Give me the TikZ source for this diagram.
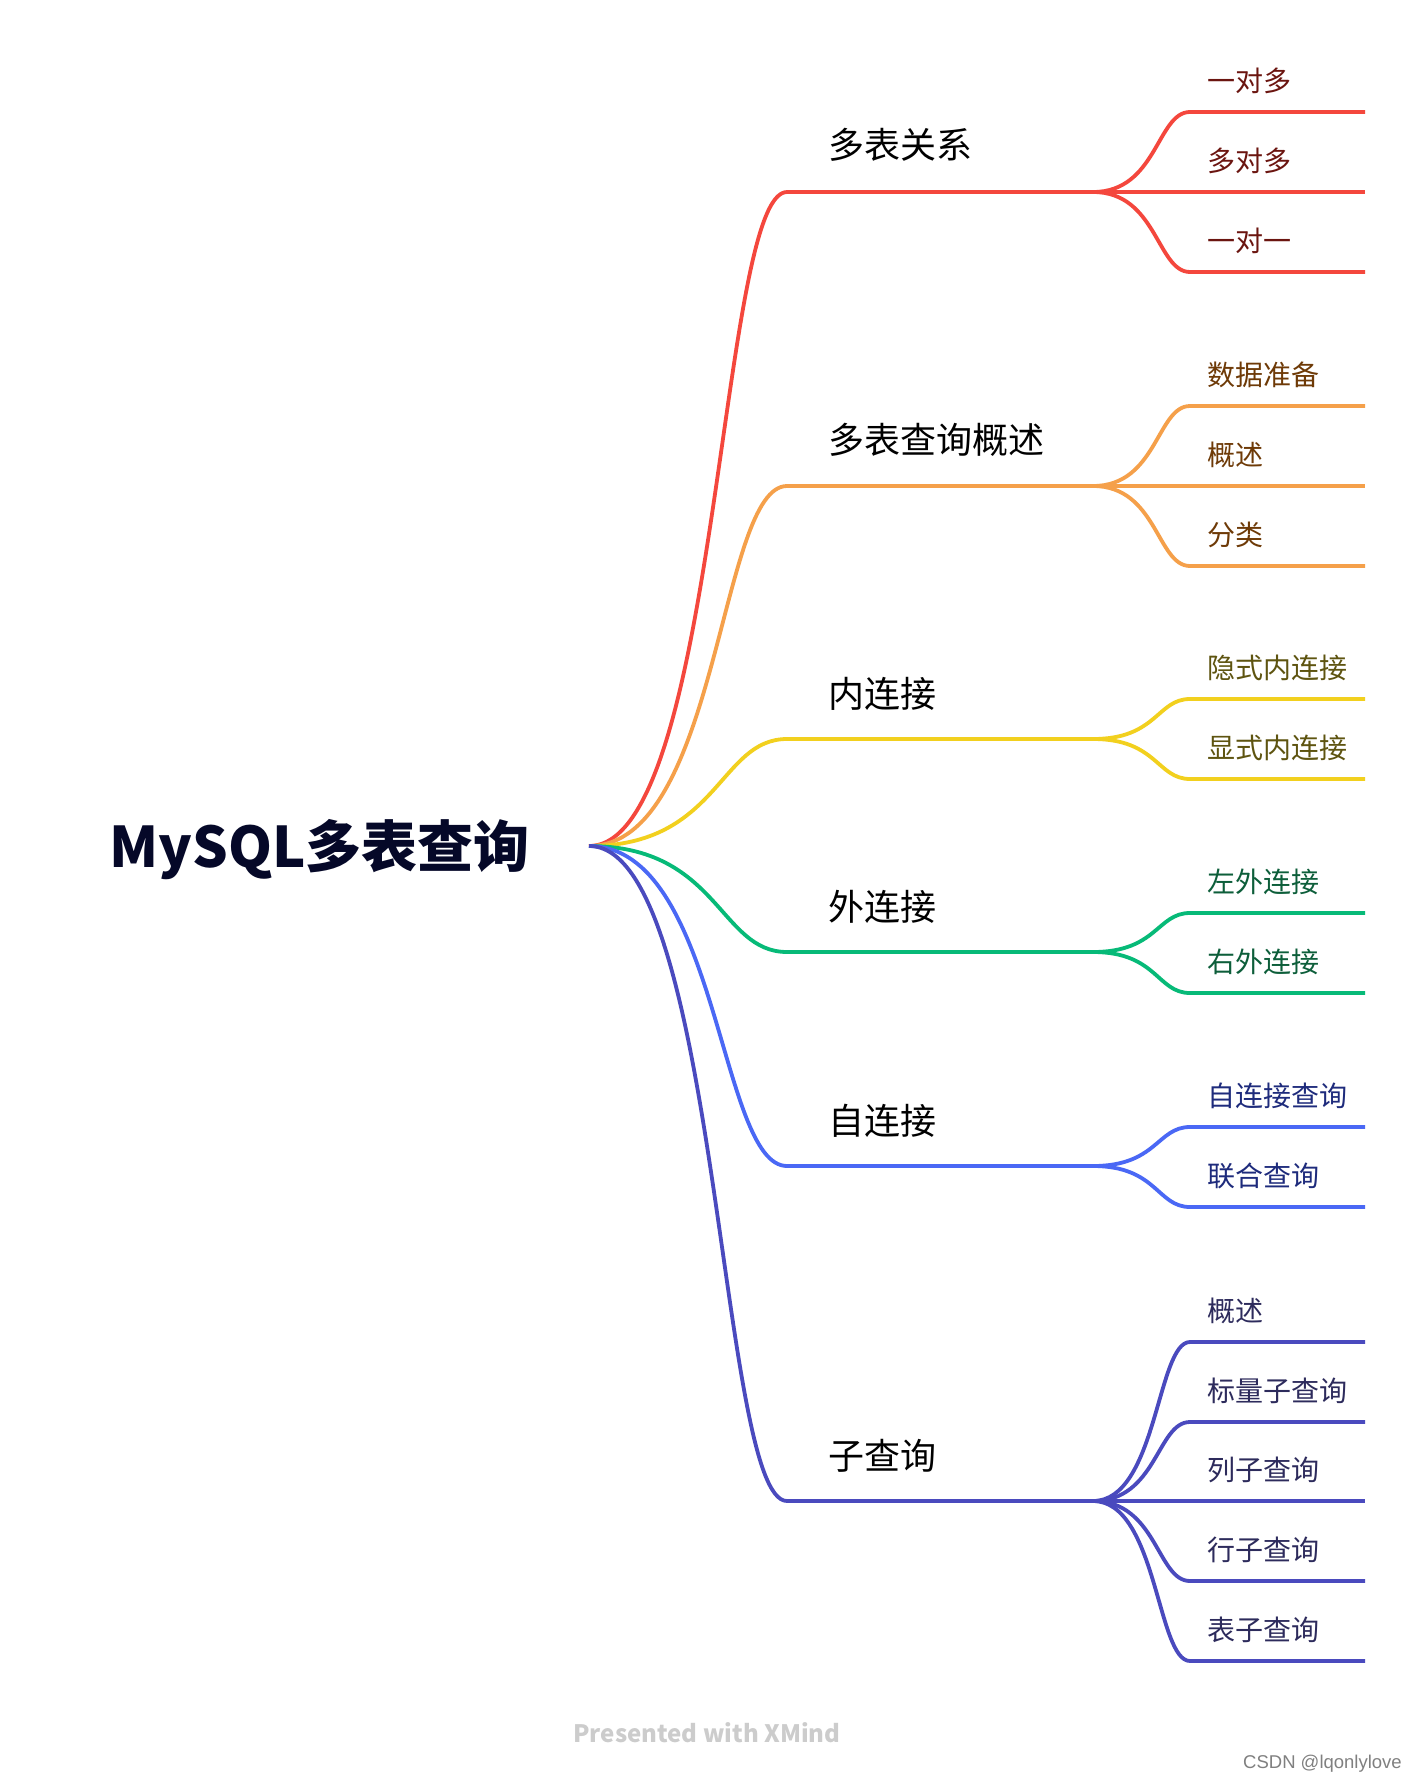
\documentclass[tikz,border=0pt]{standalone}
\usepackage{fontspec}
\setmainfont{Noto Sans CJK SC}
\newfontfamily\libsans{Liberation Sans}
\usepackage{xcolor}
\usepackage{tikz}
\usetikzlibrary{positioning}
\definecolor{rojo}{HTML}{F4473D}
\definecolor{naranja}{HTML}{F5A04A}
\definecolor{amarillo}{HTML}{F2D01E}
\definecolor{verde}{HTML}{07BA78}
\definecolor{azul}{HTML}{4A68F5}
\definecolor{anil}{HTML}{4A4ABE}
\definecolor{trojo}{HTML}{6B1510}
\definecolor{tnaranja}{HTML}{6E3A07}
\definecolor{tamarillo}{HTML}{5E5410}
\definecolor{tverde}{HTML}{0D5E3A}
\definecolor{tazul}{HTML}{1E2B7C}
\definecolor{tanil}{HTML}{2D2B5C}
\definecolor{traiz}{HTML}{050828}

\begin{document}
\begin{tikzpicture}[x=1pt, y=-1pt,
  rama/.style={line width=3.8pt},
  tema/.style={anchor=west, inner sep=0pt, font=\fontsize{36}{40}\selectfont, text=black},
  hoja/.style={anchor=west, inner sep=0pt, font=\fontsize{28}{32}\selectfont}]
\fill[white] (0,0) rectangle (1416,1784);
\useasboundingbox (0,0) rectangle (1416,1784);
% raiz
\node[anchor=east, inner sep=0pt, font=\fontsize{56}{60}\selectfont\bfseries, text=traiz] (raiz) at (530,850) {MySQL多表查询};
\coordinate (r) at (589,846);
% ramas principales
\coordinate (p1) at (787,192);  \coordinate (s1) at (1093,192);
\coordinate (p2) at (787,486);  \coordinate (s2) at (1093,486);
\coordinate (p3) at (787,739);  \coordinate (s3) at (1093,739);
\coordinate (p4) at (787,952);  \coordinate (s4) at (1093,952);
\coordinate (p5) at (787,1166); \coordinate (s5) at (1093,1166);
\coordinate (p6) at (787,1501); \coordinate (s6) at (1093,1501);
\draw[rama, rojo] (r) .. controls +(130,0) and +(-68,0) .. (p1) -- (s1);
\draw[rama, naranja] (r) .. controls +(130,0) and +(-68,0) .. (p2) -- (s2);
\draw[rama, amarillo] (r) .. controls +(130,0) and +(-68,0) .. (p3) -- (s3);
\draw[rama, verde] (r) .. controls +(130,0) and +(-68,0) .. (p4) -- (s4);
\draw[rama, azul] (r) .. controls +(130,0) and +(-68,0) .. (p5) -- (s5);
\draw[rama, anil] (r) .. controls +(130,0) and +(-68,0) .. (p6) -- (s6);
\node[tema] (t1) at ([shift={(41,-47)}]p1) {多表关系};
\node[tema] (t2) at ([shift={(41,-46)}]p2) {多表查询概述};
\node[tema] (t3) at ([shift={(41,-45)}]p3) {内连接};
\node[tema] (t4) at ([shift={(41,-45)}]p4) {外连接};
\node[tema] (t5) at ([shift={(41,-45)}]p5) {自连接};
\node[tema] (t6) at ([shift={(41,-45)}]p6) {子查询};
% hojas: 多表关系
\coordinate (h11) at (1190,112); \coordinate (f11) at (1365,112);
\coordinate (h12) at (1190,192); \coordinate (f12) at (1365,192);
\coordinate (h13) at (1190,272); \coordinate (f13) at (1365,272);
\draw[rama, rojo] (s1) .. controls +(64,0) and +(-33,0) .. (h11) -- (f11);
\draw[rama, rojo] (s1) -- (h12) -- (f12);
\draw[rama, rojo] (s1) .. controls +(64,0) and +(-33,0) .. (h13) -- (f13);
\node[hoja, text=trojo] (t11) at ([shift={(17,-31)}]h11) {一对多};
\node[hoja, text=trojo] (t12) at ([shift={(17,-31)}]h12) {多对多};
\node[hoja, text=trojo] (t13) at ([shift={(17,-31)}]h13) {一对一};
% hojas: 多表查询概述
\coordinate (h21) at (1190,406); \coordinate (f21) at (1365,406);
\coordinate (h22) at (1190,486); \coordinate (f22) at (1365,486);
\coordinate (h23) at (1190,566); \coordinate (f23) at (1365,566);
\draw[rama, naranja] (s2) .. controls +(64,0) and +(-33,0) .. (h21) -- (f21);
\draw[rama, naranja] (s2) -- (h22) -- (f22);
\draw[rama, naranja] (s2) .. controls +(64,0) and +(-33,0) .. (h23) -- (f23);
\node[hoja, text=tnaranja] (t21) at ([shift={(17,-31)}]h21) {数据准备};
\node[hoja, text=tnaranja] (t22) at ([shift={(17,-31)}]h22) {概述};
\node[hoja, text=tnaranja] (t23) at ([shift={(17,-31)}]h23) {分类};
% hojas: 内连接
\coordinate (h31) at (1190,699); \coordinate (f31) at (1365,699);
\coordinate (h32) at (1190,779); \coordinate (f32) at (1365,779);
\draw[rama, amarillo] (s3) .. controls +(64,0) and +(-33,0) .. (h31) -- (f31);
\draw[rama, amarillo] (s3) .. controls +(64,0) and +(-33,0) .. (h32) -- (f32);
\node[hoja, text=tamarillo] (t31) at ([shift={(17,-31)}]h31) {隐式内连接};
\node[hoja, text=tamarillo] (t32) at ([shift={(17,-31)}]h32) {显式内连接};
% hojas: 外连接
\coordinate (h41) at (1190,913); \coordinate (f41) at (1365,913);
\coordinate (h42) at (1190,993); \coordinate (f42) at (1365,993);
\draw[rama, verde] (s4) .. controls +(64,0) and +(-33,0) .. (h41) -- (f41);
\draw[rama, verde] (s4) .. controls +(64,0) and +(-33,0) .. (h42) -- (f42);
\node[hoja, text=tverde] (t41) at ([shift={(17,-31)}]h41) {左外连接};
\node[hoja, text=tverde] (t42) at ([shift={(17,-31)}]h42) {右外连接};
% hojas: 自连接
\coordinate (h51) at (1190,1127); \coordinate (f51) at (1365,1127);
\coordinate (h52) at (1190,1207); \coordinate (f52) at (1365,1207);
\draw[rama, azul] (s5) .. controls +(64,0) and +(-33,0) .. (h51) -- (f51);
\draw[rama, azul] (s5) .. controls +(64,0) and +(-33,0) .. (h52) -- (f52);
\node[hoja, text=tazul] (t51) at ([shift={(17,-31)}]h51) {自连接查询};
\node[hoja, text=tazul] (t52) at ([shift={(17,-31)}]h52) {联合查询};
% hojas: 子查询
\coordinate (h61) at (1190,1342); \coordinate (f61) at (1365,1342);
\coordinate (h62) at (1190,1422); \coordinate (f62) at (1365,1422);
\coordinate (h63) at (1190,1501); \coordinate (f63) at (1365,1501);
\coordinate (h64) at (1190,1581); \coordinate (f64) at (1365,1581);
\coordinate (h65) at (1190,1661); \coordinate (f65) at (1365,1661);
\draw[rama, anil] (s6) .. controls +(64,0) and +(-33,0) .. (h61) -- (f61);
\draw[rama, anil] (s6) .. controls +(64,0) and +(-33,0) .. (h62) -- (f62);
\draw[rama, anil] (s6) -- (h63) -- (f63);
\draw[rama, anil] (s6) .. controls +(64,0) and +(-33,0) .. (h64) -- (f64);
\draw[rama, anil] (s6) .. controls +(64,0) and +(-33,0) .. (h65) -- (f65);
\node[hoja, text=tanil] (t61) at ([shift={(17,-31)}]h61) {概述};
\node[hoja, text=tanil] (t62) at ([shift={(17,-31)}]h62) {标量子查询};
\node[hoja, text=tanil] (t63) at ([shift={(17,-31)}]h63) {列子查询};
\node[hoja, text=tanil] (t64) at ([shift={(17,-31)}]h64) {行子查询};
\node[hoja, text=tanil] (t65) at ([shift={(17,-31)}]h65) {表子查询};
% pie
\node[inner sep=0pt, font=\fontsize{24}{28}\selectfont\bfseries, text=black!20] (pie) at (707,1733) {Presented with XMind};
\node[anchor=east, inner sep=0pt, font=\libsans\fontsize{18.5}{22}\selectfont, text=black!50] (firma) at (1402,1764) {CSDN @lqonlylove};
\end{tikzpicture}
\end{document}
